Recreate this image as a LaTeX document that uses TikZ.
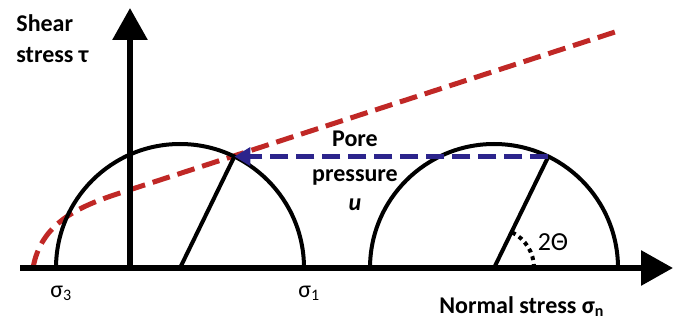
\documentclass[tikz,border=0pt]{standalone}
\usepackage{fontspec}
\setmainfont{Carlito}
\usetikzlibrary{arrows.meta,positioning}
\definecolor{envred}{RGB}{192,40,38}
\definecolor{poreblue}{RGB}{44,36,140}
\tikzset{
  >=Stealth,
  axis/.style={line width=3pt, -{Triangle[length=16pt,width=17pt]}},
  mohr/.style={line width=2pt},
  envelope/.style={envred, line width=2.5pt, dash pattern=on 9pt off 4pt},
  pore/.style={poreblue, line width=2.5pt, dash pattern=on 9pt off 4pt, -{Triangle[length=8pt,width=9pt]}},
  lbl/.style={font=\fontsize{12}{15}\selectfont\bfseries, inner sep=0pt},
  sig/.style={font=\fontsize{12}{14}\selectfont, inner sep=0pt}
}

\begin{document}
\begin{tikzpicture}[x=0.5pt, y=0.5pt]
    \useasboundingbox (0,0) rectangle (678,321);

    % axes
    \coordinate (xstart) at (20,53);
    \coordinate (xend) at (673,53);
    \coordinate (origin) at (130,53);
    \coordinate (yend) at (130,313);

    % Mohr circles
    \coordinate (m1) at (180,53);
    \coordinate (m2) at (494,53);
    \coordinate (r1) at (304,53);
    \coordinate (r2) at (618,53);
    \coordinate (p1) at ([shift={(64:124)}]m1);
    \coordinate (p2) at ([shift={(64:124)}]m2);

    % failure envelope
    \coordinate (env0) at (33,53);
    \coordinate (env1) at (120,128);
    \coordinate (env2) at (615,289);
    \draw[envelope] (env0) to[out=80,in=198] (env1) -- (env2);

    \draw[mohr] (r1) arc[start angle=0, end angle=180, radius=124];
    \draw[mohr] (r2) arc[start angle=0, end angle=180, radius=124];
    \draw[mohr] (m1) -- (p1);
    \draw[mohr] (m2) -- (p2);
    \draw[mohr, dash pattern=on 2pt off 2pt] ([shift={(0:40)}]m2) arc[start angle=0, end angle=64, radius=40];

    \draw[axis] (xstart) -- (xend);
    \draw[axis] (origin) -- (yend);

    \draw[pore] (p2) -- (p1);

    % labels
    \node[lbl, anchor=base west] (shear) at (16,289) {Shear};
    \node[lbl, anchor=base west] (stress) at (16,258) {stress τ};
    \node[lbl, anchor=base west] (normal) at (439,8) {Normal stress σ\textsubscript{n}};
    \node[lbl, anchor=base] (pore) at (355,174) {Pore};
    \node[lbl, anchor=base] (press) at (355,139) {pressure};
    \node[lbl, anchor=base] (u) at (355,111) {\itshape u};
    \node[sig, anchor=base west] (sig3) at (50,24) {σ\textsubscript{3}};
    \node[sig, anchor=base west] (sig1) at (298,24) {σ\textsubscript{1}};
    \node[sig, font=\fontsize{13}{15}\selectfont] (theta) at (553,79) {2Θ};
\end{tikzpicture}
\end{document}
